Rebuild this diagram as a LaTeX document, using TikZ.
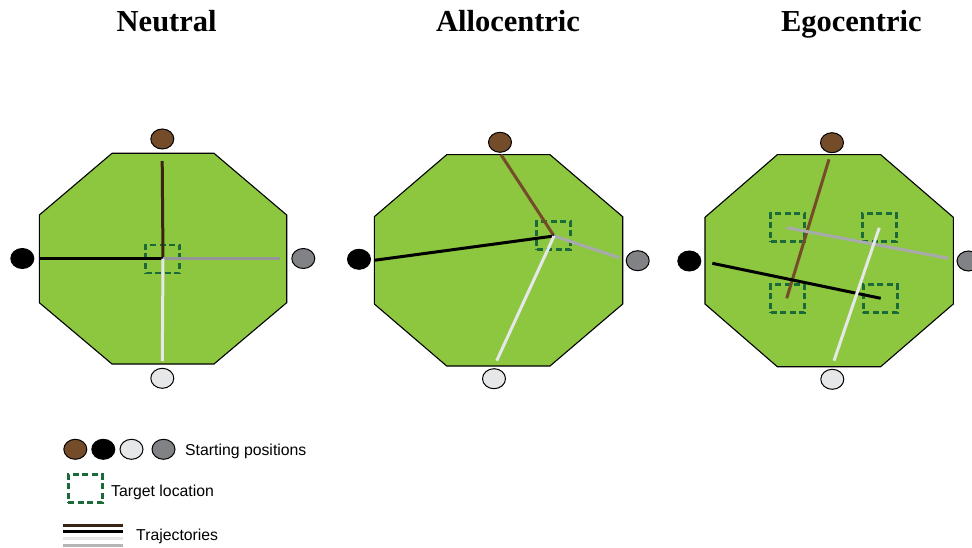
\documentclass[tikz,border=0pt]{standalone}
\usepackage{fontspec}
\setmainfont{Liberation Serif}
\setsansfont{Liberation Sans}
\usetikzlibrary{shapes.geometric}
\definecolor{arena}{HTML}{8DC63F}
\definecolor{sbrown}{HTML}{754C29}
\definecolor{sgray}{HTML}{808285}
\definecolor{slight}{HTML}{E6E7E8}
\definecolor{tdark}{HTML}{3B2314}
\definecolor{tbrown}{HTML}{754C29}
\definecolor{tgray}{HTML}{939598}
\definecolor{tlight}{HTML}{E6E7E8}
\definecolor{tgreen}{HTML}{1B6B3A}
\tikzset{
  arenabox/.style={draw=black, fill=arena, line width=1.1pt, line join=miter},
  startpos/.style={shape=ellipse, draw=black, line width=1pt, minimum width=23pt, minimum height=20pt, inner sep=0pt},
  targetbox/.style={draw=tgreen, dashed, dash pattern=on 6pt off 3.5pt, line width=2.7pt, minimum width=34pt, minimum height=28pt, inner sep=0pt},
  traj/.style={line width=3pt},
  title/.style={font=\bfseries\fontsize{30.5}{36}\selectfont, anchor=base},
  legtext/.style={font=\sffamily\fontsize{15.8}{18}\selectfont, anchor=base west, inner sep=0pt}
}
\begin{document}
\begin{tikzpicture}[x=1pt,y=-1pt]
\useasboundingbox (0,0) rectangle (972,548);

% titles
\node[title] (t1) at (166.7,31.7) {Neutral};
\node[title] (t2) at (508,31.2) {Allocentric};
\node[title] (t3) at (851.3,31.2) {Egocentric};

% ---------- Neutral ----------
\draw[arenabox] (112,153.3) -- (214,153.3) -- (286.7,215) -- (286.7,302.7) -- (214,364) -- (112,364) -- (39.3,302.7) -- (39.3,215) -- cycle;
\node[startpos, fill=sbrown] (n-b) at (162.3,139) {};
\node[startpos, fill=black] (n-k) at (22.3,258.5) {};
\node[startpos, fill=sgray] (n-g) at (303.3,258.5) {};
\node[startpos, fill=slight] (n-w) at (162.3,378.3) {};
\node[targetbox] (n-t) at (162.7,259) {};
\coordinate (n-c) at (163,258.7);
\coordinate (n-bs) at (162.2,161);
\coordinate (n-ks) at (40,258.7);
\coordinate (n-ge) at (280,258.7);
\coordinate (n-we) at (162.3,361);
\draw[traj, tdark] (n-bs) -- (n-c);
\draw[traj, black] (n-ks) -- (n-c);
\draw[traj, tgray] (n-c) -- (n-ge);
\draw[traj, tlight] (n-c) -- (n-we);

% ---------- Allocentric ----------
\draw[arenabox] (446.7,154.7) -- (550,154.7) -- (622.7,216.7) -- (622.7,304) -- (550,366) -- (446.7,366) -- (374.3,304) -- (374.3,216.7) -- cycle;
\node[startpos, fill=sbrown] (a-b) at (500,142.3) {};
\node[startpos, fill=black] (a-k) at (359,259.3) {};
\node[startpos, fill=sgray] (a-g) at (637.7,260.7) {};
\node[startpos, fill=slight] (a-w) at (494,378.7) {};
\node[targetbox] (a-t) at (553.8,235.8) {};
\coordinate (a-c) at (554,236);
\coordinate (a-bs) at (501,154.7);
\coordinate (a-ks) at (374.3,260.3);
\coordinate (a-ge) at (619.3,257.7);
\coordinate (a-we) at (496.7,360.7);
\draw[traj, tbrown] (a-bs) -- (a-c);
\draw[traj, black] (a-ks) -- (a-c);
\draw[traj, tgray!80!white] (a-c) -- (a-ge);
\draw[traj, tlight] (a-c) -- (a-we);

% ---------- Egocentric ----------
\draw[arenabox] (777.3,154.7) -- (880.7,154.7) -- (953.3,217.3) -- (953.3,304) -- (880.7,366.7) -- (777.3,366.7) -- (705,304) -- (705,217.3) -- cycle;
\node[startpos, fill=sbrown] (e-b) at (832,142.7) {};
\node[startpos, fill=black] (e-k) at (689.3,261) {};
\node[startpos, fill=sgray] (e-g) at (968.5,261) {};
\node[startpos, fill=slight] (e-w) at (832.3,379.3) {};
\node[targetbox] (e-t1) at (787.5,227.8) {};
\node[targetbox] (e-t2) at (879.2,227.8) {};
\node[targetbox] (e-t3) at (787.5,298.7) {};
\node[targetbox] (e-t4) at (880.2,298.7) {};
\coordinate (e-bs) at (829,159.3);
\coordinate (e-be) at (786.7,298.3);
\coordinate (e-ks) at (712.3,263.3);
\coordinate (e-ke) at (880.7,298.3);
\coordinate (e-gs) at (786.7,227.7);
\coordinate (e-ge) at (948.3,258.3);
\coordinate (e-ws) at (879.3,227.7);
\coordinate (e-we) at (834,360.7);
\draw[traj, tbrown] (e-bs) -- (e-be);
\draw[traj, black] (e-ks) -- (e-ke);
\draw[traj, tgray!80!white] (e-gs) -- (e-ge);
\draw[traj, tlight] (e-ws) -- (e-we);

% ---------- Legend ----------
\node[startpos, fill=sbrown] (l-b) at (75.3,449.3) {};
\node[startpos, fill=black] (l-k) at (103.3,449.3) {};
\node[startpos, fill=slight] (l-w) at (131.5,449.3) {};
\node[startpos, fill=sgray] (l-g) at (163.5,449.3) {};
\node[legtext] (l-st) at (185,455) {Starting positions};
\node[targetbox] (l-t) at (85.3,488.7) {};
\node[legtext] (l-tt) at (111,496) {Target location};
\coordinate (l-a1) at (62.7,525);
\coordinate (l-a2) at (123.3,525);
\coordinate (l-b1) at (62.7,531.7);
\coordinate (l-b2) at (123.3,531.7);
\coordinate (l-c1) at (62.7,538.3);
\coordinate (l-c2) at (123.3,538.3);
\coordinate (l-d1) at (62.7,545);
\coordinate (l-d2) at (123.3,545);
\draw[traj, tdark] (l-a1) -- (l-a2);
\draw[traj, black] (l-b1) -- (l-b2);
\draw[traj, tlight] (l-c1) -- (l-c2);
\draw[traj, tgray!70!white] (l-d1) -- (l-d2);
\node[legtext] (l-tr) at (136,540) {Trajectories};
\end{tikzpicture}
\end{document}
